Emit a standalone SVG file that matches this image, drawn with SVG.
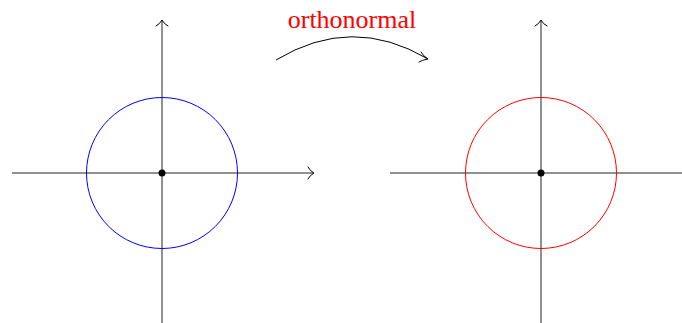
<svg xmlns="http://www.w3.org/2000/svg" width="682" height="323" viewBox="0 0 682 323">
<style>
.ax{stroke:#222;stroke-width:1;fill:none}
.tip{stroke:#000;stroke-width:1;fill:none;stroke-linecap:round}
</style>
<rect width="682" height="323" fill="#fff"/>
<g id="left">
<line class="ax" x1="12" y1="173" x2="313" y2="173"/>
<line class="ax" x1="162" y1="323" x2="162" y2="21"/>
<path class="tip" d="M308,167 Q310,171 314,173 Q310,175 308,179"/>
<path class="tip" d="M156,26 Q160,24 162,20 Q164,24 168,26"/>
<circle cx="162" cy="173" r="75.5" fill="none" stroke="#0000ff" stroke-width="1"/>
<circle cx="162" cy="173" r="3.5" fill="#000"/>
</g>
<g id="right">
<line class="ax" x1="390" y1="173" x2="682" y2="173"/>
<line class="ax" x1="541" y1="323" x2="541" y2="21"/>
<path class="tip" d="M535,26 Q539,24 541,20 Q543,24 547,26"/>
<circle cx="541" cy="173" r="75.5" fill="none" stroke="#ff0000" stroke-width="1"/>
<circle cx="541" cy="173" r="3.5" fill="#000"/>
</g>
<g id="connectors">
<path d="M276,60 Q352,14 428,59" fill="none" stroke="#000" stroke-width="1"/>
<path class="tip" d="M421,52 Q423,56 428,59 Q422,60 419,62"/>
</g>
<text x="352" y="28" text-anchor="middle" font-family="Liberation Serif, serif" font-size="26" fill="#ff0000">orthonormal</text>
</svg>
